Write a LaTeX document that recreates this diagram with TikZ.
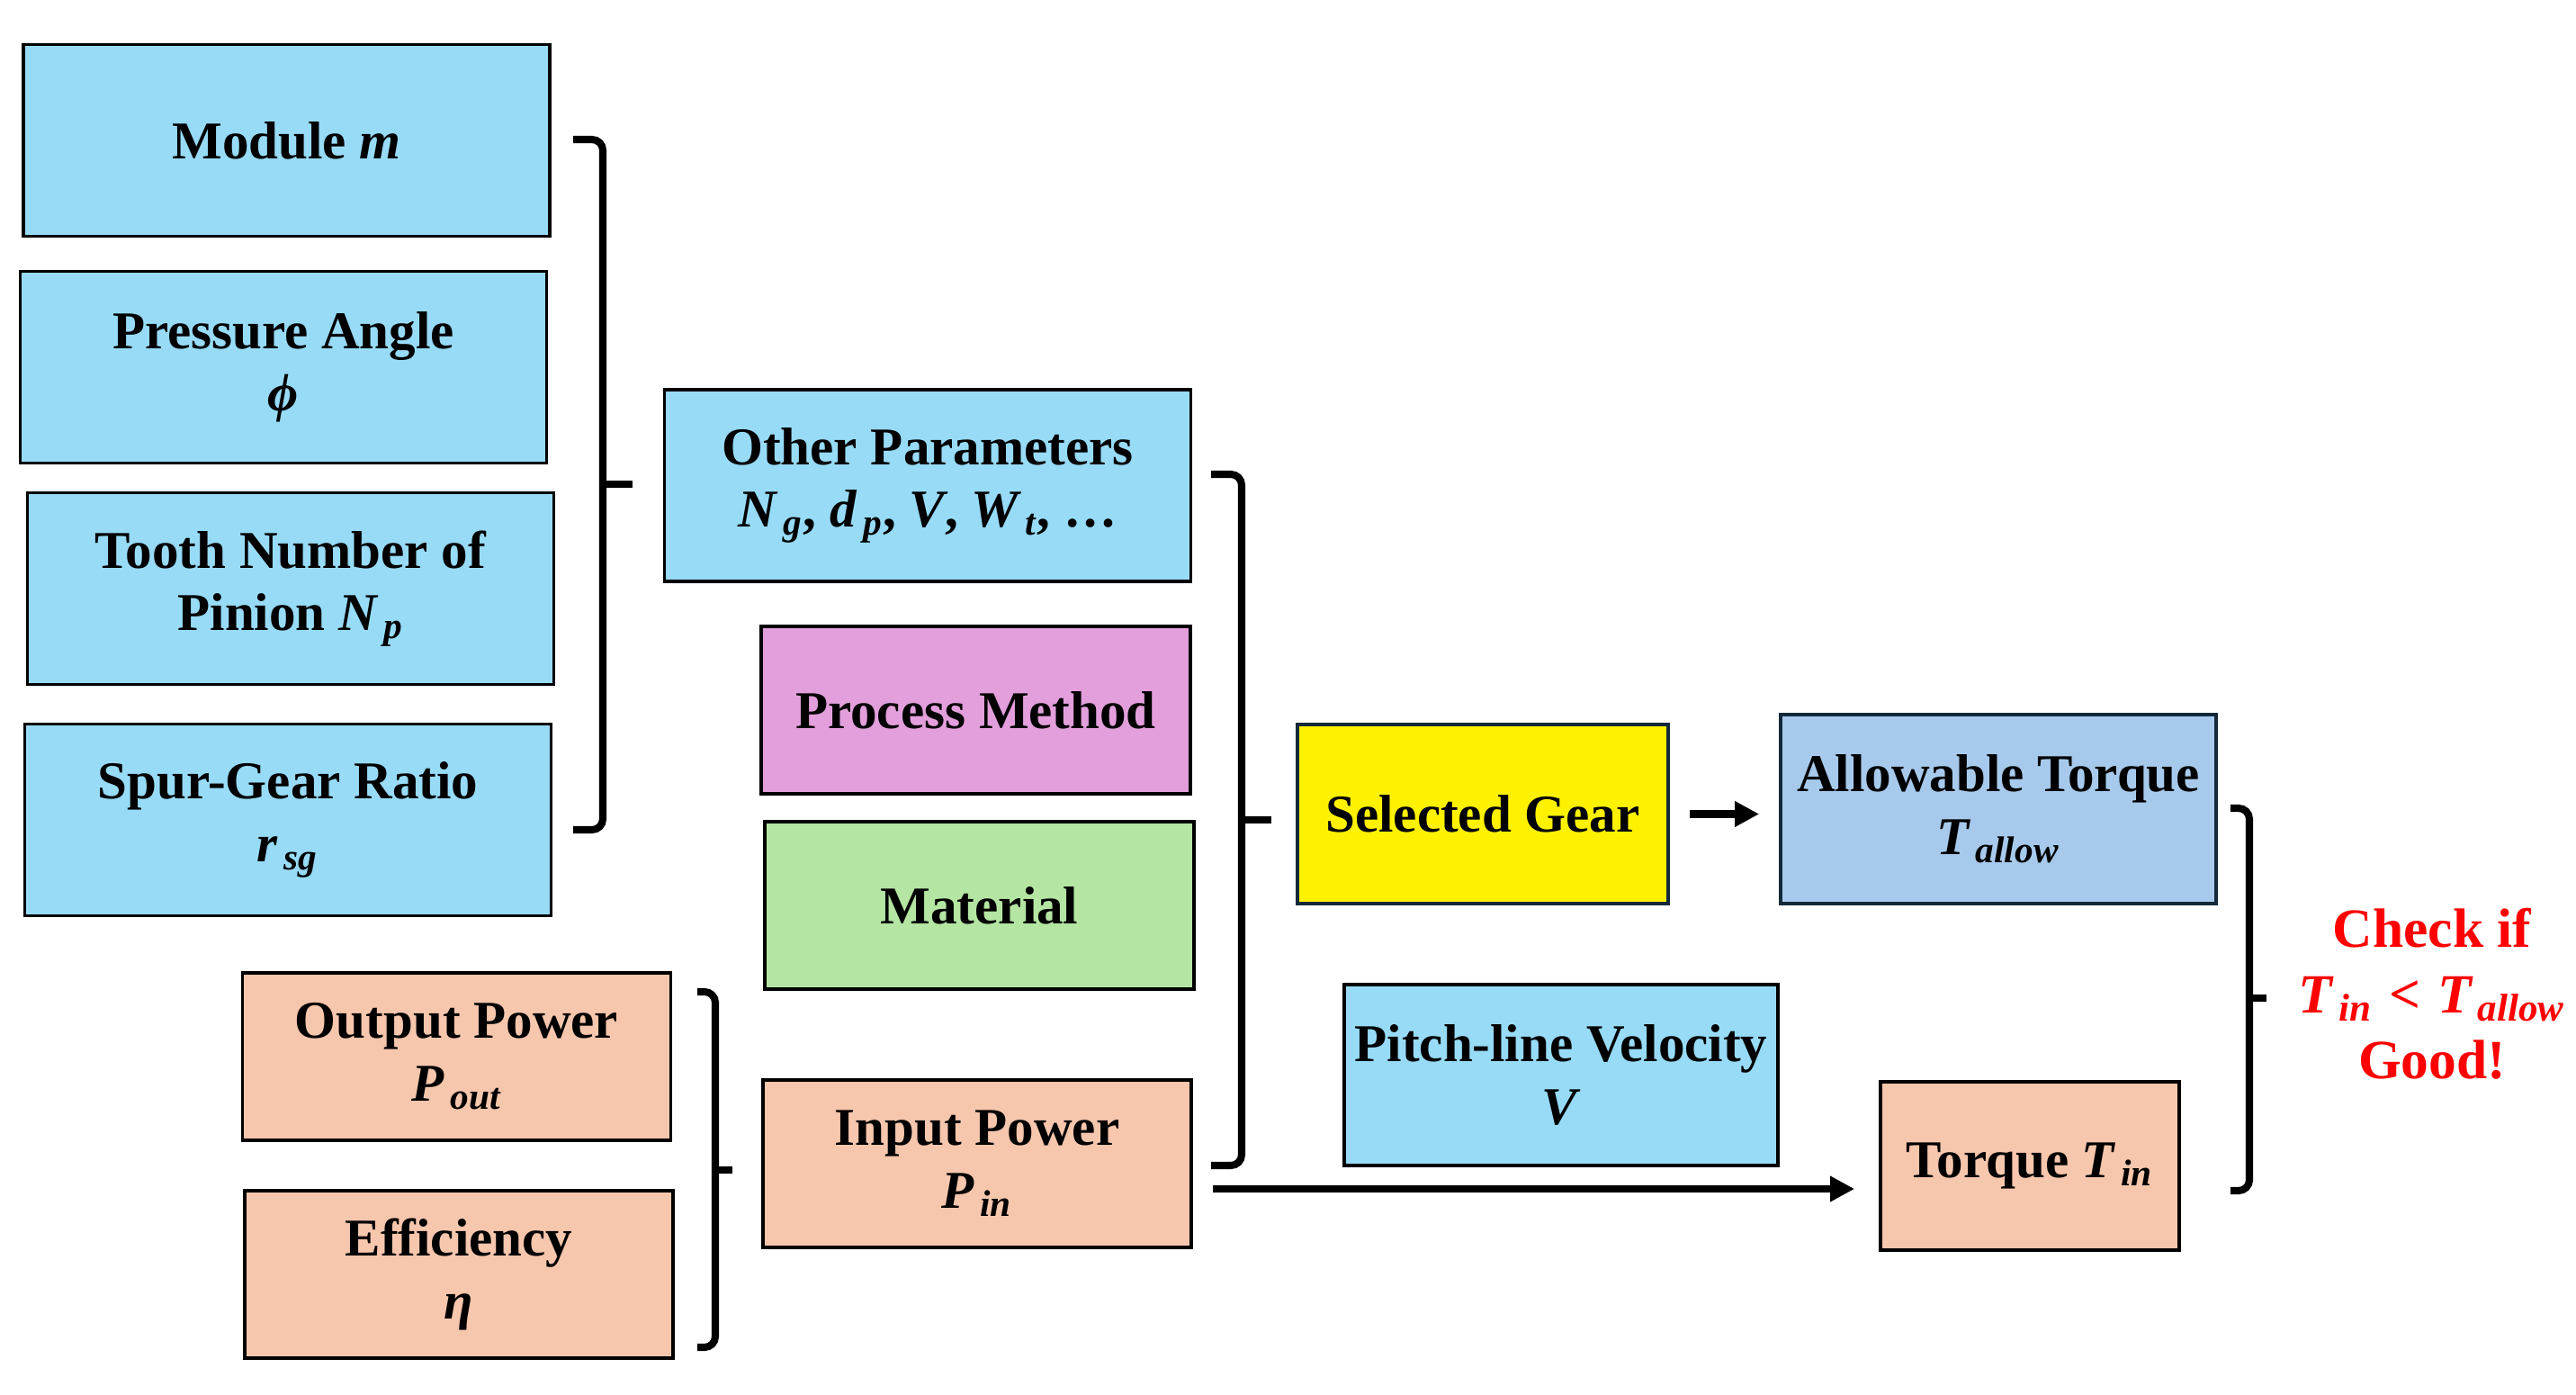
\documentclass[tikz,border=0pt]{standalone}
\usepackage{amsmath}
\usepackage{fontspec}
\setmainfont{Liberation Serif}
\usetikzlibrary{arrows.meta, positioning, calc}
\definecolor{skyfill}{HTML}{97DBF7}
\definecolor{pinkfill}{HTML}{E39FDC}
\definecolor{greenfill}{HTML}{B4E5A2}
\definecolor{salmonfill}{HTML}{F6C6AD}
\definecolor{steelfill}{HTML}{A7CAEC}
\definecolor{navyline}{HTML}{13293A}
\newcommand{\mv}[1]{\textit{#1}}
\newcommand{\gvar}[2]{$\text{\itshape #1}_{\,\text{\itshape #2}}$}

\begin{document}
\begin{tikzpicture}[
      box/.style={draw, line width=1.1pt, align=center, inner sep=1pt,
                  font=\fontsize{16.8}{19.8}\selectfont\bfseries},
      geo/.style={box, fill=skyfill, minimum width=5.85cm, minimum height=2.13cm},
      proc/.style={box, fill=pinkfill, minimum width=4.77cm, minimum height=1.86cm},
      mat/.style={box, fill=greenfill, minimum width=4.77cm, minimum height=1.86cm},
      power/.style={box, fill=salmonfill, minimum width=4.76cm, minimum height=1.86cm},
      brk/.style={line width=2.3pt, rounded corners=1.2mm},
      arr/.style={line width=2.5pt, -{Triangle[length=0.27cm, width=0.27cm]}},
    ]
    \useasboundingbox (0,0) rectangle (28.63,-15.50);

    % ---- gear geometry inputs ----
    \node[geo] (mod)   at (3.185, -1.56) {Module \mv{m}};
    \node[geo] (pang)  at (3.15, -4.08)  {Pressure Angle\\ \mv{ϕ}};
    \node[geo] (tooth) at (3.23, -6.54)  {Tooth Number of\\ Pinion \gvar{N}{p}};
    \node[geo] (ratio) at (3.20, -9.11)  {Spur-Gear Ratio\\ \gvar{r}{sg}};

    % ---- power inputs ----
    \node[power] (pout) at (5.075, -11.74) {Output Power\\ \gvar{P}{out}};
    \node[power] (eff)  at (5.10, -14.16)  {Efficiency\\ \mv{η}};

    % ---- middle column ----
    \node[geo] (other) at (10.31, -5.395) {Other Parameters\\ \gvar{N}{g}, \gvar{d}{p}, \mv{V}, \gvar{W}{t}, …};
    \node[proc] (meth) at (10.845, -7.89) {Process Method};
    \node[mat] (matl)  at (10.885, -10.06) {Material};
    \node[power] (pin) at (10.86, -12.93) {Input Power\\ \gvar{P}{in}};

    % ---- right part ----
    \node[box, fill=yellow, draw=navyline, minimum width=4.12cm, minimum height=1.99cm]
      (sel) at (16.48, -9.045) {Selected Gear};
    \node[box, fill=steelfill, draw=navyline, minimum width=4.84cm, minimum height=2.10cm]
      (allow) at (22.21, -8.99) {Allowable Torque\\ \gvar{T}{allow}};
    \node[geo, minimum width=4.82cm, minimum height=2.01cm]
      (vel) at (17.35, -11.945) {Pitch-line Velocity\\ \mv{V}};
    \node[power, minimum width=3.32cm, minimum height=1.87cm]
      (tin) at (22.56, -12.955) {Torque \gvar{T}{in}};

    % Check text
    \node[align=center, text=red, font=\fontsize{17.5}{20.8}\selectfont\bfseries]
      (check) at (27.03, -11.04)
      {Check if\\ \gvar{T}{in}\hspace{0.3em}<\hspace{0.3em}\gvar{T}{allow}\\ Good!};

    % Brackets
    \draw[brk] (6.37,-1.55) -- (6.70,-1.55) -- (6.70,-9.22) -- (6.37,-9.22);
    \draw[line width=2.5pt] (6.70,-5.38) -- (7.03,-5.38);
    \draw[brk] (7.75,-11.02) -- (7.95,-11.02) -- (7.95,-14.97) -- (7.75,-14.97);
    \draw[line width=2.5pt] (7.95,-13.00) -- (8.14,-13.00);
    \draw[brk] (13.46,-5.27) -- (13.80,-5.27) -- (13.80,-12.95) -- (13.46,-12.95);
    \draw[line width=2.5pt] (13.80,-9.11) -- (14.13,-9.11);
    \draw[brk] (24.79,-8.98) -- (25.00,-8.98) -- (25.00,-13.23) -- (24.79,-13.23);
    \draw[line width=2.5pt] (25.00,-11.09) -- (25.19,-11.09);

    % Arrows
    \draw[arr, shorten <=2.2mm, shorten >=2.2mm] (sel.east) -- (sel.east -| allow.west);
    \coordinate (pinout) at ([yshift=-2.8mm]pin.east);
    \draw[arr, shorten <=2.2mm, shorten >=2.7mm] (pinout) -- (pinout -| tin.west);

  \end{tikzpicture}
\end{document}
